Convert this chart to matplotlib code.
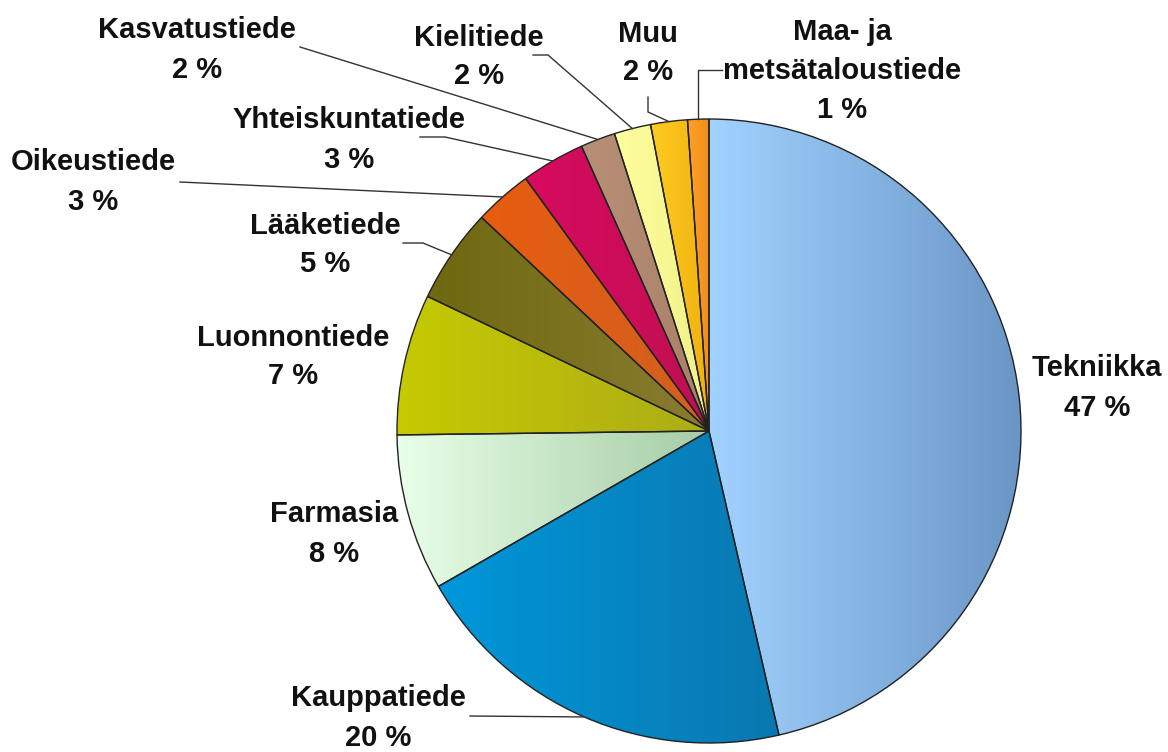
import numpy as np
import matplotlib
matplotlib.use("Agg")
import matplotlib.pyplot as plt
from matplotlib.colors import to_rgb

# ---- data ----
categories = ["Tekniikka", "Kauppatiede", "Farmasia", "Luonnontiede", "Lääketiede",
              "Oikeustiede", "Yhteiskuntatiede", "Kasvatustiede", "Kielitiede", "Muu",
              "Maa- ja\nmetsätaloustiede"]
shares = [46.4, 20.3, 8.1, 7.3, 4.9, 3.0, 3.3, 1.8, 1.9, 1.9, 1.1]
pct_labels = ["47 %", "20 %", "8 %", "7 %", "5 %", "3 %", "3 %", "2 %", "2 %", "2 %", "1 %"]

# gradient colours (left, right) per slice
grad_left = ["#a2d2ff", "#0097da", "#e8ffe8", "#c6ca00", "#6e6810", "#e85c10",
             "#d80a60", "#b89078", "#ffffa0", "#ffcc20", "#ffa028"]
grad_right = ["#6a96c6", "#0a78b0", "#a6cca6", "#acac18", "#8a7c30", "#d06020",
              "#c01050", "#a88068", "#f0f088", "#f0b010", "#f09018"]

W, H = 1168, 752
fig = plt.figure(figsize=(W / 100, H / 100), dpi=100)
ax = fig.add_axes([0, 0, 1, 1])
ax.set_xlim(0, W)
ax.set_ylim(0, H)
ax.axis("off")

cx, cy_px, R = 709, 431, 312
cy = H - cy_px

wedges, _ = ax.pie(shares, center=(cx, cy), radius=R, startangle=90,
                   counterclock=False, normalize=True,
                   wedgeprops=dict(facecolor="none", edgecolor="#222222",
                                   linewidth=1.0, zorder=3))

for w, c1, c2 in zip(wedges, grad_left, grad_right):
    ext = w.get_path().get_extents()
    a = np.array(to_rgb(c1))
    b = np.array(to_rgb(c2))
    t = np.linspace(0, 1, 256)[None, :, None]
    img = a[None, None, :] * (1 - t) + b[None, None, :] * t
    img = np.repeat(img, 2, axis=0)
    im = ax.imshow(img, extent=(ext.x0, ext.x1, ext.y0, ext.y1), aspect="auto",
                   zorder=2, interpolation="bilinear")
    im.set_clip_path(w)

ax.set_xlim(0, W)
ax.set_ylim(0, H)
ax.set_aspect("equal")

# ---- labels (pixel layout) ----
label_pos = [(1097, 388), (378, 718), (334, 534), (293, 357), (325, 245),
             (93, 182), (349, 140), (197, 50), (479, 57), (648, 53), (842, 71)]

for name, pct, (x, y) in zip(categories, pct_labels, label_pos):
    ax.text(x, H - y, f"{name}\n{pct}", ha="center", va="center",
            fontsize=21, fontweight="bold", family=["Liberation Sans", "DejaVu Sans"],
            linespacing=1.5, color="#111111", zorder=5)

# leader lines: start points (pixel), ending at wedge edge mid-angle
leader_starts = {
    1: [(470, 716)],
    4: [(403, 243), (423, 243)],
    5: [(180, 182)],
    6: [(420, 137), (445, 137)],
    7: [(300, 47)],
    8: [(533, 55), (548, 55)],
    9: [(648, 97), (648, 112)],
    10: [(722, 70), None],
}
for i, pts in leader_starts.items():
    w = wedges[i]
    mid = np.deg2rad((w.theta1 + w.theta2) / 2)
    ex, ey = cx + R * np.cos(mid), cy + R * np.sin(mid)
    xs, ys = [], []
    for p in pts:
        if p is None:
            xs.append(ex)
            ys.append(ys[-1])
        else:
            xs.append(p[0])
            ys.append(H - p[1])
    xs.append(ex)
    ys.append(ey)
    ax.plot(xs, ys, color="#333333", lw=1.0, zorder=4)

fig.savefig("out.png", dpi=100)
